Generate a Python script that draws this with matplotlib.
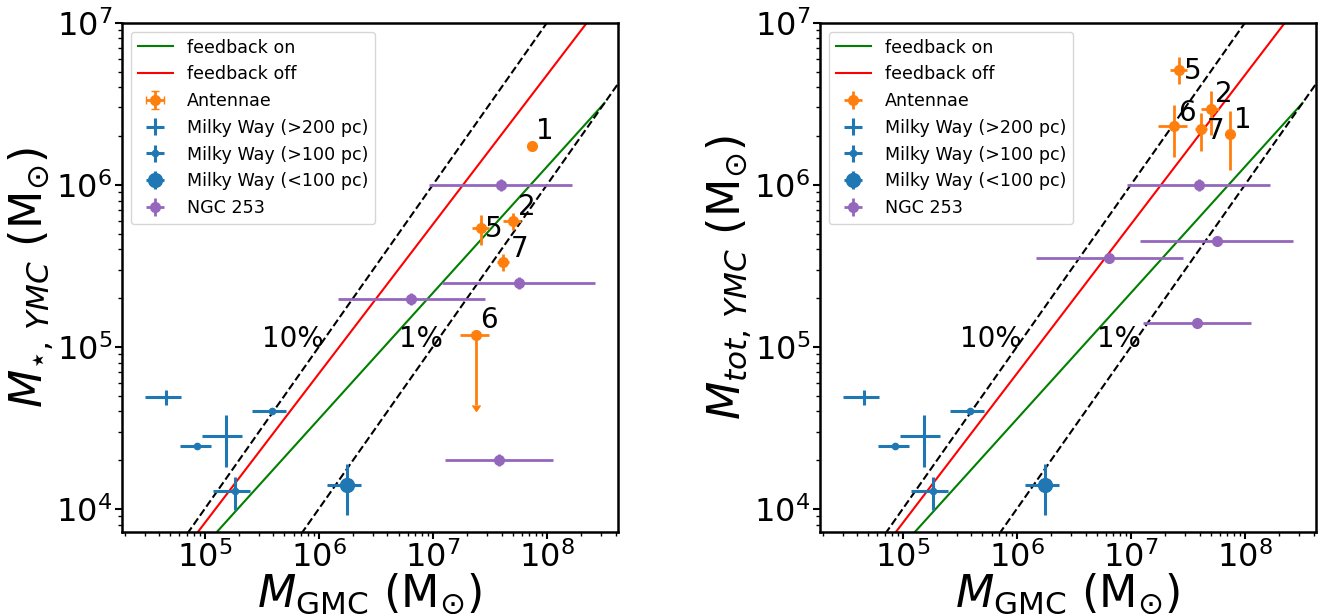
import numpy as np
import matplotlib
matplotlib.use('Agg')
import matplotlib.pyplot as plt

# Antennae clouds (ids 1, 2, 5, 6, 7)
ant_ids = ['1', '2', '5', '6', '7']
ant_mgmc = [7.4e7, 5.05e7, 2.65e7, 2.4e7, 4.15e7]
ant_mgmc_err = [0, 9.2e6, 4.5e6, 6.8e6, 5.0e6]
ant_mstar = [1.74e6, 5.96e5, 5.38e5, 1.18e5, 3.34e5]
ant_mstar_err = [0, 7.0e4, 1.1e5, 7.4e4, 4.2e4]
ant_mstar_uplim = [False, False, False, True, False]
ant_mtot = [2.05e6, 2.92e6, 5.14e6, 2.3e6, 2.2e6]
ant_mtot_err = [8.2e5, 8.8e5, 9.8e5, 8.1e5, 5.9e5]

# Milky Way
mw200_mgmc = [4.61e4, 1.53e5]
mw200_mgmc_err = [1.63e4, 5.8e4]
mw200_m = [4.9e4, 2.81e4]
mw200_m_err = [5.0e3, 1.0e4]

mw100_mgmc = [8.63e4, 3.85e5, 1.83e5]
mw100_mgmc_err = [2.6e4, 1.28e5, 6.4e4]
mw100_m = [2.46e4, 4.0e4, 1.28e4]
mw100_m_err = [0, 0, 3.0e3]

mwlt100_mgmc = [1.77e6]
mwlt100_mgmc_err = [5.9e5]
mwlt100_m = [1.41e4]
mwlt100_m_err = [4.9e3]

# NGC 253
ngc_mgmc = [3.93e7, 5.67e7, 6.45e6, 3.81e7]
ngc_mgmc_lo = [9.3e6, 1.2e7, 1.47e6, 1.28e7]
ngc_mgmc_hi = [1.67e8, 2.62e8, 2.88e7, 1.12e8]
ngc_mstar = [1.0e6, 2.48e5, 1.97e5, 2.0e4]
ngc_mstar_err = [8.5e4, 2.1e4, 1.7e4, 1.7e3]
ngc_mtot = [1.0e6, 4.47e5, 3.52e5, 1.4e5]
ngc_mtot_err = [8.5e4, 0, 0, 0]

# model tracks
model_mgmc = [1e4, 3.2e8]
fb_on = [9.9e2, 3.2e6]
fb_off = [9.8e2, 1.39e7]

# efficiency guide lines
eff_mgmc = [1e4, 1e9]
eff_10 = [1e3, 1e8]
eff_1 = [1e2, 1e7]

ngc_xerr = [np.array(ngc_mgmc) - np.array(ngc_mgmc_lo),
            np.array(ngc_mgmc_hi) - np.array(ngc_mgmc)]


def panel(ax, ant_y, ant_yerr, uplims, ngc_y, ngc_yerr, ylabel, offsets):
    ax.plot(model_mgmc, fb_on, color='g', lw=1.5, label='feedback on')
    ax.plot(model_mgmc, fb_off, color='r', lw=1.5, label='feedback off')
    ax.plot(eff_mgmc, eff_10, 'k--', lw=1.5)
    ax.plot(eff_mgmc, eff_1, 'k--', lw=1.5)

    ax.errorbar(ant_mgmc, ant_y, xerr=ant_mgmc_err, yerr=ant_yerr, uplims=uplims,
                fmt='o', color='C1', ms=7, elinewidth=2, label='Antennae')
    ax.errorbar(mw200_mgmc, mw200_m, xerr=mw200_mgmc_err, yerr=mw200_m_err,
                fmt='none', ecolor='C0', elinewidth=2.2, label='Milky Way (>200 pc)')
    ax.errorbar(mw100_mgmc, mw100_m, xerr=mw100_mgmc_err, yerr=mw100_m_err,
                fmt='o', color='C0', ms=4.5, elinewidth=2.2, label='Milky Way (>100 pc)')
    ax.errorbar(mwlt100_mgmc, mwlt100_m, xerr=mwlt100_mgmc_err, yerr=mwlt100_m_err,
                fmt='o', color='C0', ms=10, elinewidth=2.2, label='Milky Way (<100 pc)')
    ax.errorbar(ngc_mgmc, ngc_y, xerr=ngc_xerr, yerr=ngc_yerr,
                fmt='o', color='C4', ms=7, elinewidth=2, label='NGC 253')

    for lab, x, y in zip(ant_ids, ant_mgmc, ant_y):
        ax.annotate(lab, (x, y), xytext=offsets[lab], textcoords='offset pixels',
                    fontsize=20)
    ax.text(3.2e5, 1.0e5, '10%', fontsize=20)
    ax.text(5.0e6, 1.0e5, '1%', fontsize=20)

    ax.set_xscale('log')
    ax.set_yscale('log')
    ax.set_xlim(1.88e4, 4.2e8)
    ax.set_ylim(7.2e3, 1e7)
    ax.set_xlabel(r'$M_{\rm GMC}$ (M$_{\odot}$)', fontsize=32, labelpad=-2)
    ax.set_ylabel(ylabel, fontsize=32, labelpad=0)
    ax.tick_params(which='major', labelsize=23, length=5, width=1.5, pad=2)
    ax.tick_params(which='minor', length=3, width=1)
    for s in ax.spines.values():
        s.set_linewidth(1.8)
    ax.legend(loc='upper left', fontsize=12.6)


fig = plt.figure(figsize=(13.2, 6.14), dpi=100)
ax1 = fig.add_axes([0.0924, 0.1336, 0.3758, 0.8293])
ax2 = fig.add_axes([0.6212, 0.1336, 0.3758, 0.8293])

panel(ax1, ant_mstar, ant_mstar_err, ant_mstar_uplim, ngc_mstar, ngc_mstar_err,
      r'$M_{\star,\, YMC}$ (M$_{\odot}$)',
      {'1': (4, 7), '2': (5, 6), '5': (4, -9), '6': (4, 7), '7': (7, 5)})
panel(ax2, ant_mtot, ant_mtot_err, False, ngc_mtot, ngc_mtot_err,
      r'$M_{tot,\, YMC}$ (M$_{\odot}$)',
      {'1': (4, 6), '2': (4, 7), '5': (5, -9), '6': (4, 5), '7': (5, -10)})

fig.savefig('out.png', dpi=100)
